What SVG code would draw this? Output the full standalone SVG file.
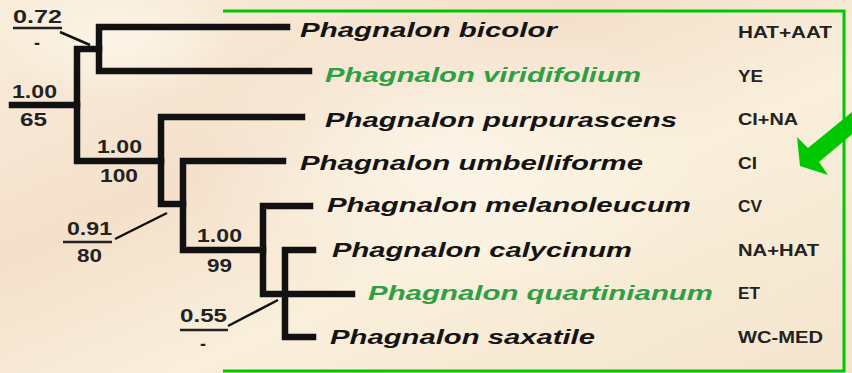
<svg xmlns="http://www.w3.org/2000/svg" width="852" height="373" viewBox="0 0 852 373">
<defs>
<linearGradient id="bg" x1="0" y1="0" x2="1" y2="1">
<stop offset="0" stop-color="#f9eedc"/>
<stop offset="0.35" stop-color="#f4e0cb"/>
<stop offset="0.6" stop-color="#f9efdb"/>
<stop offset="1" stop-color="#f4e4cd"/>
</linearGradient>
<radialGradient id="glow" cx="0.5" cy="0.5" r="0.5">
<stop offset="0" stop-color="#fdf7ea" stop-opacity="0.9"/>
<stop offset="1" stop-color="#fdf7ea" stop-opacity="0"/>
</radialGradient>
<style>
.br{fill:none;stroke:#111;stroke-width:6.5;stroke-linejoin:miter;stroke-linecap:square}
.ld{fill:none;stroke:#111;stroke-width:2.5}
.sp{font-family:"Liberation Sans",Arial,sans-serif;font-weight:bold;font-style:italic;font-size:20px;fill:#141414}
.gr{fill:#2ea043}
.rg{font-family:"Liberation Sans",Arial,sans-serif;font-weight:bold;font-size:16.5px;fill:#222}
.nm{font-family:"Liberation Sans",Arial,sans-serif;font-weight:bold;font-size:18px;fill:#222}
</style>
</defs>
<rect width="852" height="373" fill="url(#bg)"/>
<ellipse cx="450" cy="160" rx="260" ry="150" fill="url(#glow)"/>
<ellipse cx="120" cy="40" rx="120" ry="60" fill="url(#glow)"/>

<g id="connectors">
<path class="br" d="M12,105 H77"/>
<path class="br" d="M99,49 H77 V161 H161"/>
<path class="br" d="M287,27 H99 V71 H309"/>
<path class="br" d="M302,117 H161 V204 H183"/>
<path class="br" d="M283,161 H183 V250 H263"/>
<path class="br" d="M310,206 H263 V294 H352"/>
<path class="br" d="M313,250 H285 V337 H313"/>
<line class="ld" x1="60" y1="32" x2="90" y2="45"/>
<line class="ld" x1="115" y1="239" x2="167" y2="213"/>
<line class="ld" x1="228" y1="326" x2="278" y2="300"/>
</g>

<g id="support">
<text class="nm" x="13" y="23" textLength="49" lengthAdjust="spacingAndGlyphs">0.72</text>
<line x1="13" y1="28" x2="62" y2="28" stroke="#222" stroke-width="2.5"/>
<text class="nm" x="34" y="49">-</text>
<text class="nm" x="12" y="98" textLength="45" lengthAdjust="spacingAndGlyphs">1.00</text>
<text class="nm" x="20" y="126" textLength="27" lengthAdjust="spacingAndGlyphs">65</text>
<text class="nm" x="97" y="153" textLength="45" lengthAdjust="spacingAndGlyphs">1.00</text>
<text class="nm" x="100" y="182" textLength="38" lengthAdjust="spacingAndGlyphs">100</text>
<text class="nm" x="67" y="235" textLength="45" lengthAdjust="spacingAndGlyphs">0.91</text>
<line x1="63" y1="242" x2="112" y2="242" stroke="#222" stroke-width="2.5"/>
<text class="nm" x="77" y="262" textLength="25" lengthAdjust="spacingAndGlyphs">80</text>
<text class="nm" x="197" y="242" textLength="45" lengthAdjust="spacingAndGlyphs">1.00</text>
<text class="nm" x="207" y="272" textLength="25" lengthAdjust="spacingAndGlyphs">99</text>
<text class="nm" x="180" y="322" textLength="47" lengthAdjust="spacingAndGlyphs">0.55</text>
<line x1="180" y1="330" x2="228" y2="330" stroke="#222" stroke-width="2.5"/>
<text class="nm" x="200" y="350">-</text>
</g>

<path d="M223,11 H844 V371 H223" fill="none" stroke="#00c800" stroke-width="3"/>

<g id="taxon-bicolor"><text class="sp" x="300" y="37" textLength="257" lengthAdjust="spacingAndGlyphs">Phagnalon bicolor</text><text class="rg" x="738" y="38" textLength="94" lengthAdjust="spacingAndGlyphs">HAT+AAT</text></g>
<g id="taxon-viridifolium"><text class="sp gr" x="325" y="82" textLength="316" lengthAdjust="spacingAndGlyphs">Phagnalon viridifolium</text><text class="rg" x="738" y="82" textLength="25" lengthAdjust="spacingAndGlyphs">YE</text></g>
<g id="taxon-purpurascens"><text class="sp" x="325" y="127" textLength="352" lengthAdjust="spacingAndGlyphs">Phagnalon purpurascens</text><text class="rg" x="738" y="125" textLength="60" lengthAdjust="spacingAndGlyphs">CI+NA</text></g>
<g id="taxon-umbelliforme"><text class="sp" x="300" y="170" textLength="343" lengthAdjust="spacingAndGlyphs">Phagnalon umbelliforme</text><text class="rg" x="738" y="169" textLength="19" lengthAdjust="spacingAndGlyphs">CI</text></g>
<g id="taxon-melanoleucum"><text class="sp" x="327" y="212" textLength="364" lengthAdjust="spacingAndGlyphs">Phagnalon melanoleucum</text><text class="rg" x="738" y="212" textLength="24" lengthAdjust="spacingAndGlyphs">CV</text></g>
<g id="taxon-calycinum"><text class="sp" x="332" y="257" textLength="300" lengthAdjust="spacingAndGlyphs">Phagnalon calycinum</text><text class="rg" x="738" y="256" textLength="81" lengthAdjust="spacingAndGlyphs">NA+HAT</text></g>
<g id="taxon-quartinianum"><text class="sp gr" x="368" y="300" textLength="345" lengthAdjust="spacingAndGlyphs">Phagnalon quartinianum</text><text class="rg" x="738" y="299" textLength="22" lengthAdjust="spacingAndGlyphs">ET</text></g>
<g id="taxon-saxatile"><text class="sp" x="330" y="344" textLength="265" lengthAdjust="spacingAndGlyphs">Phagnalon saxatile</text><text class="rg" x="738" y="343" textLength="85" lengthAdjust="spacingAndGlyphs">WC-MED</text></g>

<g id="arrow"><polygon points="800,166 797,137 808,148 852,112 862,126 819,162 828,175" fill="#00c800"/></g>
</svg>
